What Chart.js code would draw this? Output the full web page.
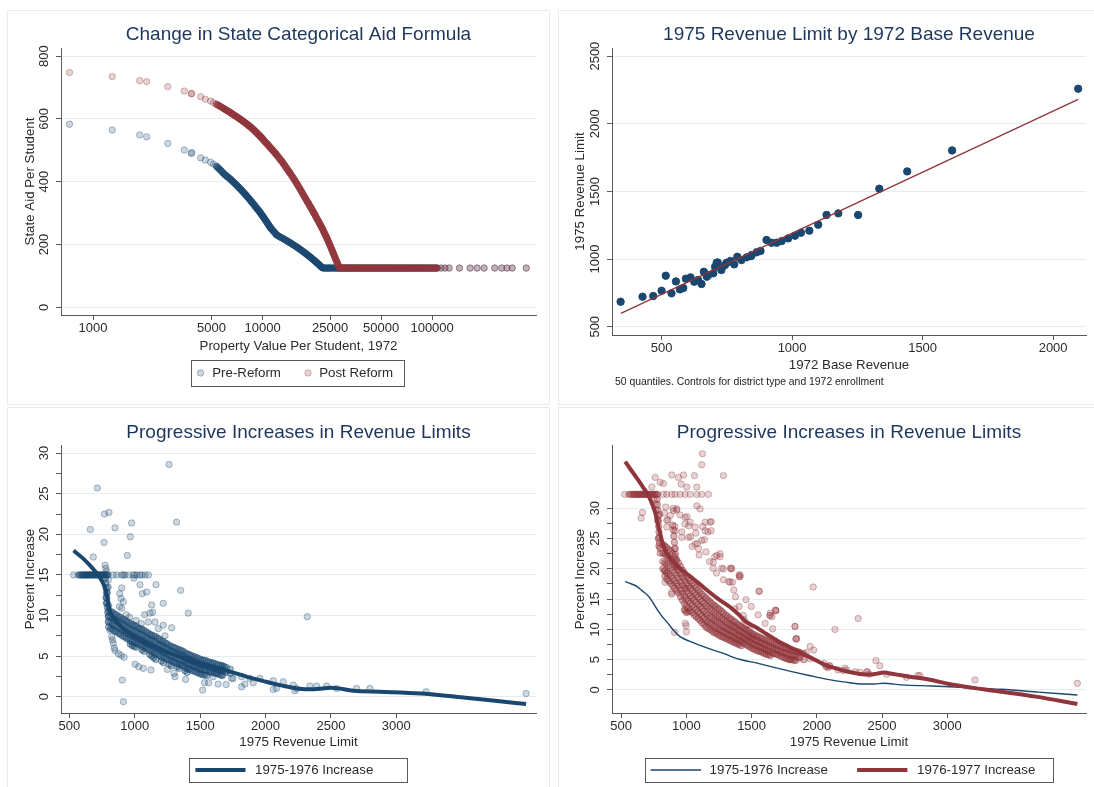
<!DOCTYPE html>
<html>
<head>
<meta charset="utf-8">
<script src="https://cdn.jsdelivr.net/npm/chart.js@4.4.1/dist/chart.umd.min.js"></script>
<style>
  body { margin: 0; background: #fff; width: 1094px; height: 787px; position: relative; overflow: hidden; }
  .frame { position: absolute; border: 1px solid #e6ecec; box-sizing: border-box; }
  canvas { position: absolute; }
</style>
</head>
<body>
<div class="frame" style="left:7px;top:10px;width:543px;height:395px"></div>
<div class="frame" style="left:558px;top:10px;width:545px;height:395px"></div>
<div class="frame" style="left:7px;top:407px;width:543px;height:390px"></div>
<div class="frame" style="left:558px;top:407px;width:545px;height:390px"></div>
<canvas id="aid" width="547" height="400" style="left:0;top:0"></canvas>
<canvas id="limit" width="547" height="400" style="left:547px;top:0"></canvas>
<canvas id="inc76" width="547" height="387" style="left:0;top:400px"></canvas>
<canvas id="inc77" width="547" height="387" style="left:547px;top:400px"></canvas>
<script>
// DATA - panel 1 (state aid vs property value, log x)
const aidTicksX = [1000, 5000, 10000, 25000, 50000, 100000];
const aidTicksY = [0, 200, 400, 600, 800];
const minimumAid = 125;

const preReformSparse = [[726,583],[1298,565],[1884,549],[2071,543],[2758,522],[3452,501],[3797,490],[3819,493],[4313,476],[4592,469],[4934,462],[5130,456]];
const postReformSparse = [[726,748],[1298,735],[1884,722],[2071,719],[2758,703],[3452,689],[3797,680],[3819,681],[4313,671],[4592,663],[4934,657],[5130,652]];

const preReformCurve = [[5350,449],[5470,444],[5590,439],[5710,434],[5830,429],[5950,424],[6070,420],[6190,416],[6310,413],[6430,409],[6550,405],[6670,401],[6790,397],[6910,393],[7030,389],[7150,385],[7270,381],[7390,377],[7510,373],[7630,369],[7750,365],[7870,361],[7990,357],[8110,353],[8230,349],[8350,345],[8470,341],[8590,337],[8710,333],[8830,329],[8950,325],[9070,321],[9190,317],[9310,313],[9430,310],[9550,306],[9670,302],[9790,298],[9910,294],[10030,290],[10150,286],[10270,282],[10390,278],[10510,274],[10630,270],[10750,266],[10870,262],[10990,258],[11110,254],[11230,251],[11400,247],[11600,242],[11800,238],[12000,233],[12150,230],[12400,227],[12700,224],[13000,221],[13300,218],[13600,215],[13900,212],[14200,209],[14500,206],[14800,203],[15100,200],[15400,197],[15700,194],[16000,191],[16300,188],[16600,185],[16900,182],[17200,179],[17500,176],[17800,173],[18100,170],[18400,167],[18700,164],[19000,161],[19300,158],[19600,155],[19900,152],[20200,149],[20500,146],[20800,143],[21100,140],[21400,137],[21700,134],[22000,131],[22300,128],[22600,126],[22850,125],[23200,125],[23600,125],[24000,125],[24400,125],[24800,125],[25200,125],[25700,125],[26200,125],[26700,125],[27200,125],[27700,125],[28200,125]];

const postReformCurve = [[5350,647],[5470,644],[5590,641],[5710,638],[5830,635],[5950,632],[6070,629],[6190,626],[6310,624],[6430,621],[6550,618],[6670,615],[6790,612],[6910,610],[7030,607],[7150,604],[7270,602],[7390,599],[7510,596],[7630,594],[7750,591],[7870,588],[7990,586],[8110,583],[8230,580],[8350,577],[8470,575],[8590,572],[8710,569],[8830,566],[8950,563],[9070,560],[9190,557],[9310,554],[9430,551],[9550,548],[9670,545],[9790,542],[9910,539],[10030,536],[10150,532],[10300,528],[10450,525],[10600,521],[10750,518],[10900,514],[11050,510],[11200,507],[11350,503],[11500,500],[11650,496],[11800,493],[11950,489],[12100,486],[12300,481],[12500,476],[12700,471],[12900,467],[13100,462],[13300,457],[13500,452],[13700,447],[13900,442],[14100,437],[14300,432],[14500,428],[14750,422],[15000,416],[15250,410],[15500,404],[15750,398],[16000,392],[16250,386],[16500,380],[16750,374],[17000,368],[17250,362],[17500,356],[17750,350],[18000,345],[18250,339],[18500,334],[18750,329],[19000,323],[19250,318],[19500,313],[19750,307],[20000,302],[20250,297],[20500,292],[20750,286],[21000,281],[21250,276],[21500,271],[21750,266],[22000,261],[22250,256],[22500,251],[22750,246],[23000,240],[23250,235],[23500,230],[23750,225],[24000,219],[24250,214],[24500,208],[24750,203],[25000,197],[25250,192],[25500,186],[25750,181],[26000,175],[26250,170],[26500,164],[26750,159],[27000,153],[27250,148],[27500,143],[27750,138],[28000,133],[28300,128]];

// districts at the minimum aid level, both before and after
const flatAidX = [28600,29200,29800,30400,31000,31700,32400,33100,33800,34500,35300,36100,36900,37700,38600,39500,40400,41300,42300,43300,44300,45300,46400,47500,48600,49700,50900,52100,53300,54600,55900,57200,58600,60000,61500,63000,64600,66200,67800,69500,71200,73000,74800,76700,78600,80600,82700,84800,87000,89200,91500,93900,96400,98900,101500,104200,107000];
const flatAidSparseX = [113000,119000,125900,145000,167500,184200,202600,234000,257500,276300,296600,359000];

// DATA - panel 2 (50 quantiles)
const baseTicksX = [500, 1000, 1500, 2000];
const limitTicksY = [500, 1000, 1500, 2000, 2500];
const quantiles = [[343,685],[427,722],[468,727],[500,766],[516,877],[538,747],[555,835],[570,776],[583,786],[593,855],[611,865],[625,833],[640,845],[653,816],[662,906],[673,870],[679,882],[698,895],[705,943],[711,973],[715,975],[729,919],[730,932],[743,956],[749,973],[764,986],[778,961],[790,1017],[806,993],[826,1013],[843,1022],[845,1030],[864,1050],[879,1060],[902,1141],[921,1121],[941,1121],[960,1133],[985,1153],[1011,1173],[1034,1195],[1066,1210],[1100,1254],[1132,1326],[1177,1338],[1253,1326],[1334,1520],[1441,1648],[1613,1803],[2096,2259]];
const quantileFit = [[344,599],[2096,2180]];

// DATA - panels 3 and 4 (percent increase vs 1975 revenue limit)
const limitTicksX = [500, 1000, 1500, 2000, 2500, 3000];
const pctTicks = [0, 2.5, 5, 7.5, 10, 12.5, 15, 17.5, 20, 22.5, 25, 27.5, 30];
const pctLabels = [0, 5, 10, 15, 20, 25, 30];

const inc7576Points = [
  [532,15],[836,15],[862,15],[900,15],[912,15],[925,15],[951,15],[989,15],[1000,15],[1015,15],[1040,15],[1055,15],[1078,15],[1104,15],
  [1262,28.6],[714,25.7],[768,22.5],[803,22.7],[660,20.6],[849,20.8],[976,21.4],[1320,21.5],[966,19.7],[765,19.0],[943,17.4],[683,17.2],[773,16.2],[778,15.8],[786,15.4],
  [798,14.4],[994,14.6],[1162,13.8],[1040,13.8],[900,13.4],[1058,12.7],[1091,12.9],[1351,13.1],[885,12.7],[895,12.1],[913,11.7],[883,11.1],[900,10.9],[1129,11.3],[1116,10.3],[1137,10.4],[1218,11.5],[1409,10.3],[1076,10.1],[1104,9.2],[1155,9.2],[1282,8.5],[1231,7.5],[2319,9.86],[1218,8.8],[1180,8.4],[1050,9.0],[1010,9.4],[960,9.8],[935,10.1],
  [811,8.2],[824,7.4],[829,7.0],[836,6.6],[844,6.0],[849,5.7],[875,5.3],[895,5.1],[918,4.85],[1002,4.0],[1030,3.7],[1066,3.5],[1124,3.3],[1249,3.37],[1300,2.9],[1308,2.47],[1389,2.14],[905,2.05],[913,-0.6],[798,9.25],
  [1519,0.82],[1533,1.73],[1565,1.73],[1637,1.56],[1699,1.5],[1600,2.47],[1664,2.67],[1672,3.8],[1740,2.26],[1752,2.26],[1817,2.47],[1817,1.23],[1842,1.56],[1880,2.26],[1906,1.73],[1957,2.26],[2059,1.97],[2059,0.9],[2084,1.03],[2135,1.85],[2212,1.44],[2225,0.74],[2237,1.03],[2339,1.32],[2390,1.32],[2467,1.32],[2543,1.03],[2696,1.03],[2798,1.03],[3228,0.62],[3992,0.41],[1397,4.5],[1447,3.7],[1498,3.3],[1575,3.1],[1626,2.9],[1677,3.3]
];
const inc7576Dense = [
  [570,15],[582,15],[592,15],[601,15],[610,15],[618,15],[626,15],[634,15],[642,15],[650,15],[658,15],[666,15],[674,15],[682,15],[690,15],[698,15],[706,15],[714,15],[722,15],[730,15],[738,15],[746,15],[754,15],[762,15],[770,15],[778,15],[786,15],[795,15],
  [775,14.6],[778,14.0],[781,13.4],[784,12.8],[786,12.2],[788,11.6],[791,11.0],[794,10.4],[798,9.9],[783,11.5],[790,12.8],[796,13.5],[800,11.2],[780,12.2],
  [800,10.6],[800,9.9],[800,9.2],[800,8.6],[830,10.4],[830,9.7],[830,9.0],[830,8.3],[860,10.1],[860,9.4],[860,8.7],[860,8.0],[890,9.8],[890,9.1],[890,8.4],[890,7.7],[920,9.5],[920,8.8],[920,8.1],[920,7.4],[950,9.2],[950,8.5],[950,7.8],[950,7.1],
  [980,8.9],[980,8.2],[980,7.5],[980,6.8],[980,6.3],[1010,8.7],[1010,8.0],[1010,7.3],[1010,6.6],[1010,6.1],[1040,8.4],[1040,7.7],[1040,7.0],[1040,6.4],[1070,8.2],[1070,7.5],[1070,6.8],[1070,6.1],[1070,5.6],[1100,7.9],[1100,7.2],[1100,6.5],[1100,5.9],
  [1130,7.6],[1130,7.0],[1130,6.3],[1130,5.6],[1130,5.0],[1160,7.4],[1160,6.7],[1160,6.0],[1160,5.3],[1160,4.6],[1190,7.1],[1190,6.4],[1190,5.8],[1190,5.1],[1220,6.8],[1220,6.2],[1220,5.5],[1220,4.8],[1220,4.2],[1250,6.5],[1250,5.9],[1250,5.3],[1250,4.6],
  [1280,6.2],[1280,5.6],[1280,5.0],[1280,4.4],[1280,3.8],[1310,6.0],[1310,5.4],[1310,4.8],[1310,4.2],[1340,5.8],[1340,5.2],[1340,4.6],[1340,4.0],[1340,3.5],[1370,5.6],[1370,5.0],[1370,4.4],[1370,3.8],[1400,5.3],[1400,4.7],[1400,4.1],[1400,3.5],[1400,3.0],
  [1430,5.1],[1430,4.5],[1430,3.9],[1430,3.3],[1460,4.9],[1460,4.3],[1460,3.7],[1460,3.1],[1490,4.7],[1490,4.1],[1490,3.5],[1490,2.9],[1520,4.5],[1520,3.9],[1520,3.3],[1520,2.7],[1550,4.4],[1550,3.8],[1550,3.2],[1550,2.6],
  [1580,4.2],[1580,3.6],[1580,3.0],[1610,4.1],[1610,3.5],[1610,2.9],[1640,3.9],[1640,3.3],[1640,2.8],[1670,3.8],[1670,3.2],[1670,2.6],[1700,3.6],[1700,3.0],[1730,3.4],[1730,2.9],
  [815,10.5],[815,9.8],[815,9.1],[815,8.4],[845,10.2],[845,9.5],[845,8.8],[845,8.1],[875,9.9],[875,9.2],[875,8.5],[875,7.8],[905,9.6],[905,8.9],[905,8.2],[905,7.5],[935,9.3],[935,8.6],[935,7.9],[935,7.2],
  [965,9.0],[965,8.3],[965,7.6],[965,6.9],[965,6.5],[995,8.8],[995,8.1],[995,7.4],[995,6.7],[995,6.2],[1025,8.5],[1025,7.8],[1025,7.1],[1025,6.5],[1055,8.3],[1055,7.6],[1055,6.9],[1055,6.2],[1055,5.8],[1085,8.0],[1085,7.3],[1085,6.6],[1085,6.0],
  [1115,7.7],[1115,7.1],[1115,6.4],[1115,5.7],[1115,5.2],[1145,7.5],[1145,6.8],[1145,6.1],[1145,5.4],[1145,4.8],[1175,7.2],[1175,6.5],[1175,5.9],[1175,5.2],[1205,6.9],[1205,6.3],[1205,5.6],[1205,4.9],[1205,4.4],[1235,6.6],[1235,6.0],[1235,5.4],[1235,4.7],
  [1265,6.3],[1265,5.7],[1265,5.1],[1265,4.5],[1265,4.0],[1295,6.1],[1295,5.5],[1295,4.9],[1295,4.3],[1325,5.9],[1325,5.3],[1325,4.7],[1325,4.1],[1325,3.7],[1355,5.7],[1355,5.1],[1355,4.5],[1355,3.9],[1385,5.4],[1385,4.8],[1385,4.2],[1385,3.6],[1385,3.2],
  [1415,5.2],[1415,4.6],[1415,4.0],[1415,3.4],[1445,5.0],[1445,4.4],[1445,3.8],[1445,3.2],[1475,4.8],[1475,4.2],[1475,3.6],[1475,3.0],[1505,4.6],[1505,4.0],[1505,3.4],[1505,2.8],[1535,4.5],[1535,3.9],[1535,3.3],[1535,2.7],
  [1565,4.3],[1565,3.7],[1565,3.1],[1595,4.2],[1595,3.6],[1595,3.0],[1625,4.0],[1625,3.4],[1625,2.9],[1655,3.9],[1655,3.3],[1655,2.7],[1685,3.7],[1685,3.1]
];
const inc7576Fit = [[532,18.0],[600,17.1],[650,16.3],[700,15.4],[740,14.5],[770,13.5],[790,12.2],[805,10.8],[830,9.9],[880,8.9],[940,8.0],[1042,7.0],[1100,6.5],[1176,5.96],[1240,5.5],[1310,5.14],[1400,4.6],[1498,4.1],[1610,3.6],[1728,3.1],[1860,2.45],[2003,1.85],[2120,1.4],[2238,1.03],[2365,0.91],[2505,1.11],[2671,0.74],[2875,0.62],[3187,0.41],[3455,0.0],[3700,-0.4],[3992,-0.9]];

const inc7677Points = [
  [527,32.3],[824,32.3],[850,32.3],[888,32.3],[914,32.3],[952,32.3],[990,32.3],[1029,32.3],[1080,32.3],[1118,32.3],[1169,32.3],
  [1123,39.0],[1118,37.2],[1284,35.4],[761,35.1],[888,35.5],[978,35.5],[1062,35.4],[799,34.3],[824,34.1],[939,35.1],[960,34.0],[1003,33.5],[1080,33.5],[735,33.5],
  [663,29.3],[653,28.4],[761,30.7],[842,30.2],[901,29.6],[927,29.9],[990,28.5],[1029,27.7],[1080,30.4],[1105,29.9],[1144,27.7],[1182,27.7],[1190,26.3],[1144,26.3],[1067,26.9],[876,28.8],[850,28.0],[850,26.9],[914,26.3],[990,27.4],[965,25.2],[1016,25.2],[1067,24.1],[1093,23.3],[1118,24.7],[1233,22.2],[1259,22.5],[1207,21.1],[1284,20.0],[1343,20.0],[1412,18.7],[1335,17.8],[1557,16.3],[1642,12.3],[1685,13.1],[1833,10.5],[1838,8.4],[990,13.1],[998,10.6],[888,15.8],[837,17.8],[850,19.2],[832,19.7],[914,23.3],
  [753,31.4],[766,29.7],[832,29.2],[859,28.1],[899,30.0],[925,29.7],[912,27.0],[952,28.9],[965,26.1],[1005,28.6],[1018,27.1],[1032,25.3],[1045,23.7],[1072,25.9],[1085,24.2],[1098,22.3],[1125,27.0],[1138,24.8],[1151,22.8],[1165,26.1],[1178,21.2],[1191,27.8],[1205,20.1],[1218,22.0],[1231,19.3],[1258,22.0],[1271,20.1],[1284,18.2],[1338,20.1],[1404,19.0],[1324,17.9],[1364,16.5],[1377,15.4],[1457,14.9],[1497,13.8],[1404,13.8],[1550,12.4],[1444,11.6],[1603,11.0],[1484,9.9],[1510,8.8],[1657,12.1],[1643,12.7],[1683,13.2],[1843,8.5],[1949,7.2],[1976,6.6],[2056,4.4],[2069,3.9],[2095,4.0],[2162,3.3],[2215,3.6],[2295,3.0],[2388,3.0],[2401,2.6],[2534,2.6],[2773,2.4],[992,11.0],[1000,9.6],[909,9.5],[886,16.1],[997,16.8],
  [1347,20.1],[1354,17.8],[1406,18.7],[1411,19.0],[1559,16.3],[1640,12.3],[1686,13.1],[1661,10.1],[1832,10.5],[1845,8.45],[1972,17.0],[2139,10.0],[2317,11.8],[2453,4.86],[2483,4.0],[2075,3.87],[2087,3.65],[2100,3.98],[2202,3.2],[2228,3.3],[2330,2.93],[2381,3.0],[2688,2.1],[2790,2.4],[1947,5.14],[1883,6.0],[1921,6.2],[1794,5.0],[1436,12.3],[1372,13.4],[1462,10.7],[3212,1.65],[3997,1.1]
];
const inc7677Dense = [
  [560,32.3],[575,32.3],[590,32.3],[600,32.3],[610,32.3],[620,32.3],[630,32.3],[640,32.3],[650,32.3],[660,32.3],[670,32.3],[680,32.3],[690,32.3],[700,32.3],[710,32.3],[720,32.3],[730,32.3],[740,32.3],[750,32.3],[760,32.3],[770,32.3],[780,32.3],
  [776,31.5],[778,30.6],[781,29.7],[784,28.8],[786,27.9],[788,27.0],[790,26.1],[792,25.2],[795,24.3],[798,23.4],[785,25.0],[790,23.8],[800,22.6],[780,28.0],[795,29.0],[900,26.4],[904,25.4],[908,24.4],[912,23.4],[916,22.4],[920,21.4],[922,20.4],[896,27.2],
  [820,24.0],[820,22.6],[820,21.2],[820,20.0],[850,23.5],[850,22.2],[850,20.8],[850,19.4],[850,18.3],[880,23.0],[880,21.6],[880,20.2],[880,18.8],[880,17.6],[910,22.0],[910,20.7],[910,19.4],[910,18.0],[910,16.8],[940,21.0],[940,19.8],[940,18.5],[940,17.2],[940,16.0],
  [970,19.8],[970,18.6],[970,17.3],[970,16.0],[970,14.8],[1000,18.8],[1000,17.6],[1000,16.3],[1000,15.0],[1000,13.8],[1000,12.8],[1030,18.0],[1030,16.8],[1030,15.5],[1030,14.3],[1030,13.1],[1060,17.2],[1060,16.0],[1060,14.8],[1060,13.6],[1060,12.4],
  [1090,16.5],[1090,15.3],[1090,14.1],[1090,12.9],[1090,11.8],[1120,15.8],[1120,14.6],[1120,13.4],[1120,12.2],[1120,11.1],[1150,15.2],[1150,13.9],[1150,12.6],[1150,11.4],[1150,10.4],[1180,14.6],[1180,13.4],[1180,12.1],[1180,11.0],[1180,10.0],
  [1210,14.0],[1210,12.8],[1210,11.6],[1210,10.5],[1210,9.5],[1240,13.5],[1240,12.3],[1240,11.2],[1240,10.1],[1240,9.2],[1270,13.0],[1270,11.8],[1270,10.7],[1270,9.7],[1270,8.8],[1300,12.4],[1300,11.3],[1300,10.3],[1300,9.4],[1300,8.5],
  [1330,11.9],[1330,10.9],[1330,9.9],[1330,9.0],[1330,8.2],[1360,11.4],[1360,10.5],[1360,9.6],[1360,8.7],[1360,7.9],[1390,10.9],[1390,10.0],[1390,9.1],[1390,8.3],[1390,7.6],[1420,10.5],[1420,9.6],[1420,8.8],[1420,8.0],[1420,7.3],
  [1450,10.1],[1450,9.2],[1450,8.4],[1450,7.6],[1480,9.6],[1480,8.8],[1480,8.0],[1480,7.2],[1510,9.2],[1510,8.4],[1510,7.6],[1510,6.8],[1540,8.9],[1540,8.1],[1540,7.3],[1540,6.5],[1570,8.6],[1570,7.8],[1570,7.0],[1570,6.3],[1600,8.3],[1600,7.5],[1600,6.7],[1600,6.0],
  [1630,8.0],[1630,7.2],[1630,6.4],[1630,5.8],[1660,7.7],[1660,6.9],[1660,6.1],[1690,7.4],[1690,6.6],[1690,5.9],[1720,7.2],[1720,6.3],[1720,5.6],[1750,7.0],[1750,6.1],[1750,5.3],[1780,6.8],[1780,5.9],[1780,5.1],[1810,6.6],[1810,5.7],[1810,5.0],[1840,6.4],[1840,5.5],[1840,4.9],[1870,6.2],[1870,5.3],[1900,6.0],[1900,5.0],
  [835,23.8],[835,22.4],[835,21.0],[835,19.7],[835,18.8],[865,23.2],[865,21.9],[865,20.5],[865,19.1],[865,18.0],[895,22.5],[895,21.2],[895,19.8],[895,18.4],[895,17.2],[925,21.5],[925,20.3],[925,19.0],[925,17.6],[925,16.4],
  [955,20.4],[955,19.2],[955,17.9],[955,16.6],[955,15.4],[985,19.3],[985,18.1],[985,16.8],[985,15.5],[985,14.3],[985,13.3],[1015,18.4],[1015,17.2],[1015,15.9],[1015,14.7],[1015,13.5],[1015,12.9],[1045,17.6],[1045,16.4],[1045,15.2],[1045,14.0],[1045,12.8],
  [1075,16.9],[1075,15.7],[1075,14.5],[1075,13.3],[1075,12.1],[1105,16.2],[1105,15.0],[1105,13.8],[1105,12.6],[1105,11.5],[1135,15.5],[1135,14.3],[1135,13.0],[1135,11.8],[1135,10.8],[1165,14.9],[1165,13.7],[1165,12.4],[1165,11.2],[1165,10.2],
  [1195,14.3],[1195,13.1],[1195,11.9],[1195,10.8],[1195,9.8],[1225,13.8],[1225,12.6],[1225,11.4],[1225,10.3],[1225,9.4],[1255,13.3],[1255,12.1],[1255,11.0],[1255,9.9],[1255,9.0],[1285,12.7],[1285,11.6],[1285,10.5],[1285,9.6],[1285,8.7],
  [1315,12.2],[1315,11.1],[1315,10.1],[1315,9.2],[1315,8.4],[1345,11.7],[1345,10.7],[1345,9.8],[1345,8.9],[1345,8.1],[1375,11.2],[1375,10.3],[1375,9.4],[1375,8.5],[1375,7.8],[1405,10.7],[1405,9.8],[1405,9.0],[1405,8.2],[1405,7.5],
  [1435,10.3],[1435,9.4],[1435,8.6],[1435,7.8],[1465,9.9],[1465,9.0],[1465,8.2],[1465,7.4],[1495,9.4],[1495,8.6],[1495,7.8],[1495,7.0],[1525,9.1],[1525,8.3],[1525,7.5],[1525,6.7],[1555,8.8],[1555,8.0],[1555,7.2],[1555,6.4],
  [1585,8.5],[1585,7.7],[1585,6.9],[1585,6.2],[1615,8.2],[1615,7.4],[1615,6.6],[1615,5.9],[1645,7.9],[1645,7.1],[1645,6.3],[1645,5.7],[1675,7.6],[1675,6.8],[1675,6.0],[1705,7.3],[1705,6.5],[1705,5.8],[1735,7.1],[1735,6.2],[1735,5.5],
  [1765,6.9],[1765,6.0],[1765,5.2],[1795,6.7],[1795,5.8],[1795,5.0],[1825,6.5],[1825,5.6],[1825,4.9],[1855,6.3],[1855,5.4]
];
const inc7677Fit = [[531,37.7],[580,36.2],[633,34.6],[670,33.4],[709,32.1],[740,30.6],[761,29.3],[775,28.0],[786,26.9],[800,25.8],[812,24.7],[830,23.5],[850,22.5],[880,21.6],[914,20.8],[950,20.1],[990,19.4],[1050,18.4],[1118,17.2],[1180,16.1],[1246,15.0],[1334,13.7],[1399,12.5],[1462,11.2],[1530,10.4],[1589,9.6],[1650,8.75],[1717,7.9],[1780,7.2],[1845,6.5],[1910,5.8],[1972,5.14],[2075,4.03],[2140,3.6],[2202,3.2],[2270,2.9],[2330,2.65],[2407,2.54],[2460,2.7],[2509,2.87],[2585,2.65],[2713,2.2],[2866,1.7],[3013,1.0],[3200,0.35],[3412,-0.28],[3678,-1.1],[3997,-2.31]];
const inc7576FitB = [[531,17.9],[580,17.5],[620,17.1],[660,16.4],[713,15.4],[745,14.4],[779,13.2],[820,12.0],[859,11.0],[900,9.9],[952,8.8],[1018,8.1],[1100,7.4],[1190,6.7],[1284,6.05],[1334,5.6],[1420,5.0],[1550,4.4],[1680,3.7],[1816,3.0],[1950,2.35],[2082,1.76],[2220,1.3],[2348,1.0],[2440,1.0],[2508,1.1],[2650,0.85],[2880,0.66],[3150,0.4],[3412,0.11],[3700,-0.35],[3997,-0.83]];

// STYLE
const FONT = '"Liberation Sans", Arial, Helvetica, sans-serif';
const NAVY = '26,71,111';
const MAROON = '144,53,59';
const AXIS = '#5a5a5a';
const GRID = '#e4edf0';
const TEXT = '#2b2b2b';
const TITLE = '#1d365c';
Chart.defaults.font.family = FONT;

const rgba = (c, a) => 'rgba(' + c + ',' + a + ')';
const toXY = pts => pts.map(p => ({ x: p[0], y: p[1] }));
const atMinimum = xs => xs.map(x => [x, minimumAid]);

// translucent markers; heavily overplotted stretches get a stronger fill
function cloud(label, pts, c, order, alpha) {
  const a = alpha || 0.22;
  return { label: label, data: toXY(pts), backgroundColor: rgba(c, a), borderColor: rgba(c, Math.min(1, a + 0.12)),
    borderWidth: 1, pointRadius: 3.2, order: order };
}
function fitLine(label, pts, c, width, order) {
  return { label: label, data: toXY(pts), showLine: true, borderColor: rgba(c, 1), backgroundColor: rgba(c, 1),
    borderWidth: width, pointRadius: 0, fill: false, cubicInterpolationMode: 'monotone', order: order };
}

// titles, rotated y labels, note and boxed legend, Stata style
const decor = {
  id: 'decor',
  afterDraw(chart, args, o) {
    const ctx = chart.ctx, a = chart.chartArea;
    ctx.save();
    ctx.textBaseline = 'middle';
    ctx.textAlign = 'center';
    ctx.fillStyle = TITLE;
    ctx.font = '19px ' + FONT;
    ctx.fillText(o.title, (a.left + a.right) / 2, o.titleY);

    const ys = chart.scales.y;
    ctx.font = '13px ' + FONT;
    ctx.fillStyle = TEXT;
    o.yLabels.forEach(v => {
      ctx.save();
      ctx.translate(o.yLabelX, ys.getPixelForValue(v));
      ctx.rotate(-Math.PI / 2);
      ctx.fillText(String(v), 0, 0);
      ctx.restore();
    });

    if (o.note) {
      ctx.textAlign = 'left';
      ctx.font = '10.4px ' + FONT;
      ctx.fillStyle = '#222';
      ctx.fillText(o.note.text, o.note.x, o.note.y);
    }

    if (o.legend) {
      const L = o.legend;
      ctx.strokeStyle = AXIS;
      ctx.lineWidth = 1;
      ctx.strokeRect(L.box[0] + 0.5, L.box[1] + 0.5, L.box[2], L.box[3]);
      ctx.textAlign = 'left';
      ctx.font = '13.3px ' + FONT;
      L.items.forEach(it => {
        const ds = chart.data.datasets[it.ds];
        ctx.beginPath();
        if (it.x2) {
          ctx.moveTo(it.x, L.y);
          ctx.lineTo(it.x2, L.y);
          ctx.strokeStyle = ds.borderColor;
          ctx.lineWidth = ds.borderWidth;
          ctx.stroke();
        } else {
          ctx.arc(it.x, L.y, ds.pointRadius, 0, Math.PI * 2);
          ctx.fillStyle = ds.backgroundColor;
          ctx.fill();
          ctx.strokeStyle = ds.borderColor;
          ctx.lineWidth = ds.borderWidth;
          ctx.stroke();
        }
        ctx.fillStyle = TEXT;
        ctx.fillText(ds.label, it.tx, L.y);
      });
    }
    ctx.restore();
  }
};

function options(c) {
  return {
    responsive: false,
    animation: false,
    events: [],
    layout: { padding: { left: 0, top: c.top, right: c.right, bottom: 0 } },
    plugins: { legend: { display: false }, tooltip: { enabled: false }, decor: c.decor },
    scales: {
      x: {
        type: c.xType || 'linear', min: c.xMin, max: c.xMax,
        afterBuildTicks: s => { s.ticks = c.xTicks.map(v => ({ value: v })); },
        afterFit: s => { s.height = c.xHeight; },
        ticks: { autoSkip: false, maxRotation: 0, minRotation: 0, padding: 1, color: TEXT, font: { size: 13 }, callback: v => String(v) },
        grid: { drawOnChartArea: false, tickLength: 5, tickColor: AXIS },
        border: { color: AXIS, width: 1 },
        title: { display: true, text: c.xTitle, color: TEXT, font: { size: 13.3 }, padding: { top: 0, bottom: c.xTitlePad } }
      },
      y: {
        type: 'linear', min: c.yMin, max: c.yMax,
        afterBuildTicks: s => { s.ticks = c.yTicks.map(v => ({ value: v })); },
        afterFit: s => { s.width = c.left; },
        ticks: { display: false },
        grid: {
          color: g => (g.tick && c.decor.yLabels.includes(g.tick.value)) ? GRID : 'rgba(0,0,0,0)',
          tickLength: 5, tickColor: AXIS, lineWidth: 1
        },
        border: { color: AXIS, width: 1 },
        title: { display: true, text: c.yTitle, color: TEXT, font: { size: 13.3 }, padding: { top: c.yTitlePad, bottom: 0 } }
      }
    }
  };
}

// PANEL 1
new Chart(document.getElementById('aid'), {
  type: 'scatter',
  data: { datasets: [
    cloud('Post Reform', postReformCurve.concat(atMinimum(flatAidX)), MAROON, 0, 0.6),
    cloud('Post Reform', postReformSparse.concat(atMinimum(flatAidSparseX)), MAROON, 0),
    cloud('Pre-Reform', preReformCurve.concat(atMinimum(flatAidX)), NAVY, 1, 0.6),
    cloud('Pre-Reform', preReformSparse.concat(atMinimum(flatAidSparseX)), NAVY, 1)
  ] },
  options: options({
    top: 48, right: 11, left: 61, xHeight: 85,
    xType: 'logarithmic', xMin: 647, xMax: 410000, xTicks: aidTicksX,
    yMin: -24.5, yMax: 826, yTicks: aidTicksY,
    xTitle: 'Property Value Per Student, 1972', xTitlePad: 46,
    yTitle: 'State Aid Per Student', yTitlePad: 22,
    decor: {
      title: 'Change in State Categorical Aid Formula', titleY: 35,
      yLabels: aidTicksY, yLabelX: 44,
      legend: { box: [191, 360, 213, 26], y: 373, items: [
        { ds: 3, x: 200.6, tx: 212.2 },
        { ds: 1, x: 308, tx: 319.2 }
      ] }
    }
  }),
  plugins: [decor]
});

// PANEL 2
new Chart(document.getElementById('limit'), {
  type: 'scatter',
  data: { datasets: [
    fitLine('Fitted values', quantileFit, MAROON, 1.3, 0),
    { label: '1975 Revenue Limit', data: toXY(quantiles), backgroundColor: rgba(NAVY, 1), borderColor: rgba(NAVY, 1),
      borderWidth: 1, pointRadius: 3.7, order: 1 }
  ] },
  options: options({
    top: 48, right: 8, left: 65, xHeight: 65,
    xMin: 310, xMax: 2126, xTicks: baseTicksX,
    yMin: 439, yMax: 2560, yTicks: limitTicksY,
    xTitle: '1972 Base Revenue', xTitlePad: 27,
    yTitle: '1975 Revenue Limit', yTitlePad: 25.5,
    decor: {
      title: '1975 Revenue Limit by 1972 Base Revenue', titleY: 35,
      yLabels: limitTicksY, yLabelX: 48,
      note: { text: '50 quantiles. Controls for district type and 1972 enrollment', x: 68, y: 382.3 }
    }
  }),
  plugins: [decor]
});

// PANEL 3
new Chart(document.getElementById('inc76'), {
  type: 'scatter',
  data: { datasets: [
    fitLine('1975-1976 Increase', inc7576Fit, NAVY, 4, 0),
    cloud('Percent Increase', inc7576Dense, NAVY, 1, 0.36),
    cloud('Percent Increase', inc7576Points, NAVY, 2)
  ] },
  options: options({
    top: 45, right: 11, left: 61, xHeight: 74,
    xMin: 436, xMax: 4068, xTicks: limitTicksX,
    yMin: -2.0, yMax: 31.0, yTicks: pctTicks,
    xTitle: '1975 Revenue Limit', xTitlePad: 36.7,
    yTitle: 'Percent Increase', yTitlePad: 22,
    decor: {
      title: 'Progressive Increases in Revenue Limits', titleY: 32.3,
      yLabels: pctLabels, yLabelX: 44,
      legend: { box: [189, 358, 218, 24], y: 370, items: [
        { ds: 0, x: 195.4, x2: 245.5, tx: 255 }
      ] }
    }
  }),
  plugins: [decor]
});

// PANEL 4
new Chart(document.getElementById('inc77'), {
  type: 'scatter',
  data: { datasets: [
    fitLine('1976-1977 Increase', inc7677Fit, MAROON, 4, 0),
    fitLine('1975-1976 Increase', inc7576FitB, NAVY, 1.4, 1),
    cloud('Percent Increase', inc7677Dense, MAROON, 2, 0.36),
    cloud('Percent Increase', inc7677Points, MAROON, 3)
  ] },
  options: options({
    top: 45, right: 8, left: 65, xHeight: 74,
    xMin: 430, xMax: 4063, xTicks: limitTicksX,
    yMin: -3.8, yMax: 40.45, yTicks: pctTicks,
    xTitle: '1975 Revenue Limit', xTitlePad: 36.7,
    yTitle: 'Percent Increase', yTitlePad: 25.5,
    decor: {
      title: 'Progressive Increases in Revenue Limits', titleY: 32.3,
      yLabels: pctLabels, yLabelX: 48,
      legend: { box: [98, 358, 408, 24], y: 370, items: [
        { ds: 1, x: 103.6, x2: 154, tx: 162.6 },
        { ds: 0, x: 310.1, x2: 360.4, tx: 370 }
      ] }
    }
  }),
  plugins: [decor]
});
</script>
</body>
</html>
